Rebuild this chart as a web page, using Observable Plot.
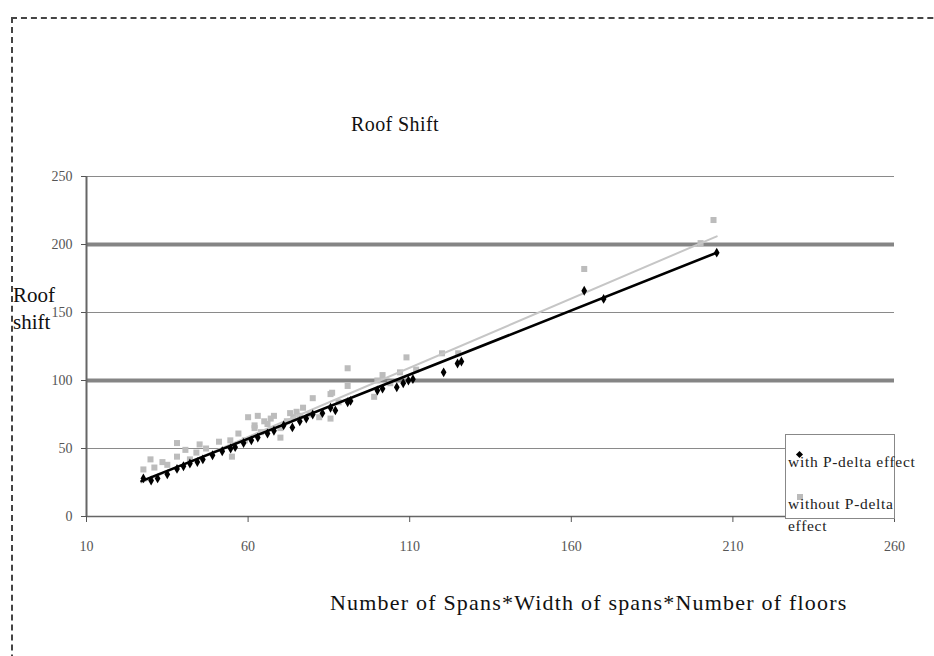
<!DOCTYPE html>
<html>
<head>
<meta charset="utf-8">
<script src="https://cdn.jsdelivr.net/npm/d3@7"></script>
<script src="https://cdn.jsdelivr.net/npm/@observablehq/plot@0.6"></script>
<style>
  html, body { margin: 0; padding: 0; background: #fff; }
  #wrap { position: relative; width: 934px; height: 656px; overflow: hidden; font-family: "Liberation Serif", "Times New Roman", serif; }
  #frame { position: absolute; left: 11px; top: 17px; width: 1000px; height: 1000px; border-top: 2px dashed #444; border-left: 2px dashed #444; }
  .t { position: absolute; color: #111; white-space: nowrap; font-family: "Liberation Serif", "Times New Roman", serif; }
  #chart { position: absolute; left: 0; top: 0; }
  #legend { position: absolute; left: 785px; top: 434px; width: 108px; height: 83px; border: 1px solid #888; background: #fff; }
  .lg { position: absolute; font-size: 15.5px; color: #222; white-space: nowrap; font-family: "Liberation Serif", "Times New Roman", serif; letter-spacing: 0.7px; }
  .dia { position: absolute; width: 5px; height: 5px; background: #000; transform: rotate(45deg); }
  .sq { position: absolute; width: 6px; height: 6px; background: #bbb; }
</style>
</head>
<body>
<div id="wrap">
  <div id="frame"></div>
  <div id="chart"></div>
  <div class="t" style="left:351px; top:113px; font-size:20px; letter-spacing:0.4px;">Roof Shift</div>
  <div class="t" style="left:13px; top:282px; font-size:21px; line-height:27px;">Roof<br>shift</div>
  <div class="t" style="left:330px; top:590px; font-size:22px; letter-spacing:1.2px;">Number of Spans*Width of spans*Number of floors</div>
  <div id="legend">
    <div class="dia" style="left:11px; top:17px;"></div>
    <div class="lg" style="left:2px; top:18px;">with P-delta effect</div>
    <div class="sq" style="left:11px; top:59px;"></div>
    <div class="lg" style="left:2px; top:58px; line-height:22px;">without P-delta<br>effect</div>
  </div>
</div>
<script>
// Series: with P-delta effect (black diamonds)
const withX = [27.6, 30, 32, 35, 38, 40, 42, 44.3, 46, 49, 52, 54.6, 56, 58.6, 61, 63, 66, 68, 71, 73.7, 76, 78, 80, 83, 85.5, 87, 90.8, 91.7, 100, 101.6, 106, 108, 109.6, 111, 120.5, 124.8, 126, 164, 170, 205];
const withY = [28, 26.5, 28, 31, 35, 37, 39, 40, 42, 45, 48, 50, 51, 54, 56, 58, 61, 63, 67, 65.5, 70, 72, 75, 76, 80, 78, 84, 85, 92.6, 94, 95, 98, 100, 101, 106, 112.5, 114, 166, 160, 194];
// Series: without P-delta effect (grey squares)
const withoutX = [27.6, 29.8, 31, 33.5, 35, 38, 38, 40.6, 42, 45, 44, 47, 51, 54.5, 55, 57, 59, 60, 62, 63, 62, 64, 65, 66, 67, 68, 70, 70, 72, 73, 74, 75, 76, 77, 79, 80, 82, 85.5, 85.5, 86, 88, 90.8, 90.8, 99, 100, 101.6, 104, 107, 109, 112, 120, 125, 164, 200, 204];
const withoutY = [34.6, 42, 36, 40, 38, 54, 44, 49, 42, 53, 47, 50, 55, 56, 44, 61, 56, 73, 65, 74, 67, 62, 70, 68, 72, 74, 58, 65, 70, 76, 73, 77, 74, 80, 75, 87, 73, 72, 90, 91, 84, 109, 96, 88, 100, 104, 98, 106, 117, 108, 120, 120, 182, 201, 218];
// Linear trend lines
const trendX = [27, 205];
const withTrendY = [26, 194];
const withoutTrendY = [25, 206];
// Axes
const xTicks = [10, 60, 110, 160, 210, 260];
const yTicks = [0, 50, 100, 150, 200, 250];
const gridThin = [50, 150, 250];
const gridThick = [100, 200];

const withData = withX.map((x, i) => ({x, y: withY[i]}));
const withoutData = withoutX.map((x, i) => ({x, y: withoutY[i]}));
const withTrend = trendX.map((x, i) => ({x, y: withTrendY[i]}));
const withoutTrend = trendX.map((x, i) => ({x, y: withoutTrendY[i]}));

const chart = Plot.plot({
  width: 934,
  height: 656,
  marginLeft: 86,
  marginRight: 40,
  marginTop: 176,
  marginBottom: 140,
  style: {fontFamily: '"Liberation Serif", "Times New Roman", serif', background: "transparent"},
  x: {domain: [10, 260]},
  y: {domain: [0, 250]},
  marks: [
    Plot.ruleY(gridThin, {stroke: "#8a8a8a", strokeWidth: 1}),
    Plot.ruleY(gridThick, {stroke: "#858585", strokeWidth: 4}),
    Plot.ruleX([10], {stroke: "#666", strokeWidth: 2}),
    Plot.ruleY([0], {stroke: "#666", strokeWidth: 1.5}),
    Plot.axisX({ticks: xTicks, tickSize: 6, tickPadding: 19, fontSize: 14, stroke: "#555", color: "#555", label: null, tickFormat: d => String(d)}),
    Plot.axisY({ticks: yTicks, tickSize: 5, tickPadding: 9, fontSize: 14, stroke: "#555", color: "#555", label: null, tickFormat: d => String(d)}),
    Plot.dot(withoutData, {x: "x", y: "y", symbol: "square", r: 3.4, fill: "#bcbcbc", stroke: "none"}),
    Plot.line(withoutTrend, {x: "x", y: "y", stroke: "#c6c6c6", strokeWidth: 2}),
    Plot.dot(withData, {x: "x", y: "y", symbol: "diamond", r: 3, fill: "#000", stroke: "none"}),
    Plot.line(withTrend, {x: "x", y: "y", stroke: "#000", strokeWidth: 2.6})
  ]
});
document.getElementById("chart").appendChild(chart);
</script>
</body>
</html>
